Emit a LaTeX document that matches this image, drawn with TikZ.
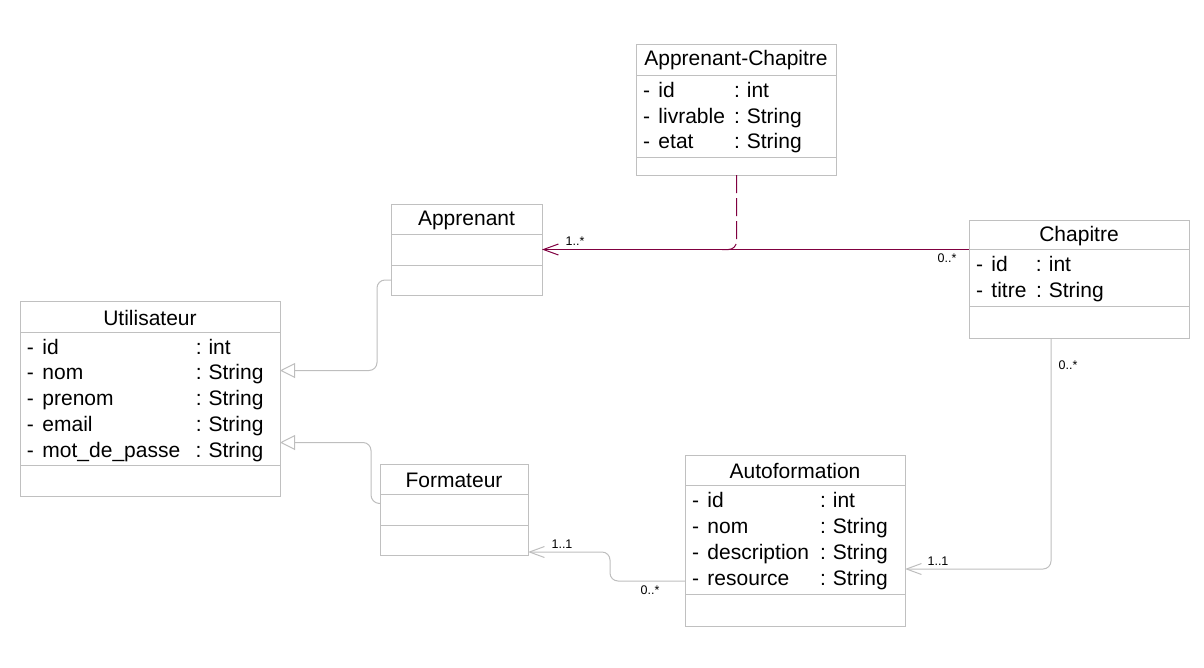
\documentclass[tikz,border=0pt]{standalone}
\usepackage{fontspec}
\setmainfont{Liberation Sans}
\usepackage{tikz}
\usetikzlibrary{positioning}
\usetikzlibrary{arrows.meta}
\definecolor{boxgray}{RGB}{192,192,192}
\definecolor{linkgray}{RGB}{190,190,190}
\definecolor{assocpurple}{RGB}{128,0,64}
\newcommand{\classfont}{\fontsize{21}{25.8}\selectfont}
\newcommand{\multfont}{\fontsize{12.5}{14}\selectfont}
\newcommand{\lowered}[2]{\raisebox{-#1}[\height][\depth]{#2}}
\newcommand{\attrtab}[2]{\lowered{2pt}{\begin{tabular}{@{}l@{\hspace{8.5pt}}l@{\hspace{#1}}l@{}}#2\end{tabular}}}
\tikzset{every picture/.style={line width=1pt},classtitle/.style={draw=boxgray,inner sep=0pt,outer sep=0pt,font=\classfont},classpart/.style={draw=boxgray,inner xsep=7pt,inner ysep=0pt,outer sep=0pt,align=left,font=\classfont},inherit/.style={draw=linkgray,rounded corners=8pt,-{Triangle[open,length=15pt,width=15pt,fill=white]}},assoc/.style={draw=linkgray,rounded corners=8pt,-{Straight Barb[length=15pt,width=11pt]}},mult/.style={font=\multfont,inner sep=0pt}}

\begin{document}
\begin{tikzpicture}[x=1pt,y=-1pt]
\useasboundingbox (0,0) rectangle (1204,667);

\node (apchtitle) [classtitle,minimum width=200pt,minimum height=31pt,anchor=north west] at (636,44) {\lowered{1pt}{Apprenant-Chapitre}};
\node (apchattr) [classpart,text width=186pt,minimum height=82pt,below=0pt of apchtitle] {\attrtab{9pt}{- & id & :\ int\\ - & livrable & :\ String\\ - & etat & :\ String}};
\node (apchops) [classpart,text width=186pt,minimum height=18pt,below=0pt of apchattr] {};

\node (apptitle) [classtitle,minimum width=151pt,minimum height=30pt,anchor=north west] at (391,204) {\lowered{1pt}{Apprenant}};
\node (appattr) [classpart,text width=137pt,minimum height=31pt,below=0pt of apptitle] {};
\node (appops) [classpart,text width=137pt,minimum height=30pt,below=0pt of appattr] {};

\node (chaptitle) [classtitle,minimum width=220pt,minimum height=29pt,anchor=north west] at (969,220) {\lowered{1.5pt}{Chapitre}};
\node (chapattr) [classpart,text width=206pt,minimum height=57pt,below=0pt of chaptitle] {\attrtab{9.5pt}{- & id & :\ int\\ - & titre & :\ String}};
\node (chapops) [classpart,text width=206pt,minimum height=32pt,below=0pt of chapattr] {};

\node (utiltitle) [classtitle,minimum width=260pt,minimum height=31pt,anchor=north west] at (20,301) {\lowered{1pt}{Utilisateur}};
\node (utilattr) [classpart,text width=246pt,minimum height=133pt,below=0pt of utiltitle] {\attrtab{15.5pt}{- & id & :\ int\\ - & nom & :\ String\\ - & prenom & :\ String\\ - & email & :\ String\\ - & mot\_de\_passe & :\ String}};
\node (utilops) [classpart,text width=246pt,minimum height=31pt,below=0pt of utilattr] {};

\node (formtitle) [classtitle,minimum width=148pt,minimum height=30pt,anchor=north west] at (380,464) {\lowered{1pt}{Formateur}};
\node (formattr) [classpart,text width=134pt,minimum height=31pt,below=0pt of formtitle] {};
\node (formops) [classpart,text width=134pt,minimum height=30pt,below=0pt of formattr] {};

\node (autotitle) [classtitle,minimum width=220pt,minimum height=30pt,anchor=north west] at (685,455) {\lowered{1pt}{Autoformation}};
\node (autoattr) [classpart,text width=206pt,minimum height=109pt,below=0pt of autotitle] {\attrtab{11pt}{- & id & :\ int\\ - & nom & :\ String\\ - & description & :\ String\\ - & resource & :\ String}};
\node (autoops) [classpart,text width=206pt,minimum height=32pt,below=0pt of autoattr] {};

\draw[inherit] (appops.west) -- (377,280) |- ([yshift=28pt]utilattr.east);
\draw[inherit] ([yshift=6pt]formattr.west) -- (371,503) |- ([yshift=-44pt]utilattr.east);

\coordinate (apchjoin) at (722,249.5);
\draw[assocpurple,-{Straight Barb[length=15pt,width=11pt]}] (appattr.east -| chapattr.west) -- (appattr.east);
\draw[assocpurple,dash pattern=on 18pt off 5pt,rounded corners=8pt] ([xshift=0.5pt]apchops.south) |- (apchjoin);
\node (multapp) [mult] at (575,241) {1..*};
\node (multchap) [mult] at (947,258) {0..*};

\draw[assoc] ([yshift=-41.5pt]autoattr.west) -- (610,581) |- ([yshift=-12pt]formops.east);
\node (multform) [mult] at (562,544) {1..1};
\node (multauto) [mult] at (650,590) {0..*};

\draw[assoc] ([xshift=-28pt]chapops.south) |- ([yshift=-29.5pt]autoattr.east);
\node (multchapb) [mult] at (1068,365) {0..*};
\node (multautob) [mult] at (938,561) {1..1};
\end{tikzpicture}
\end{document}
